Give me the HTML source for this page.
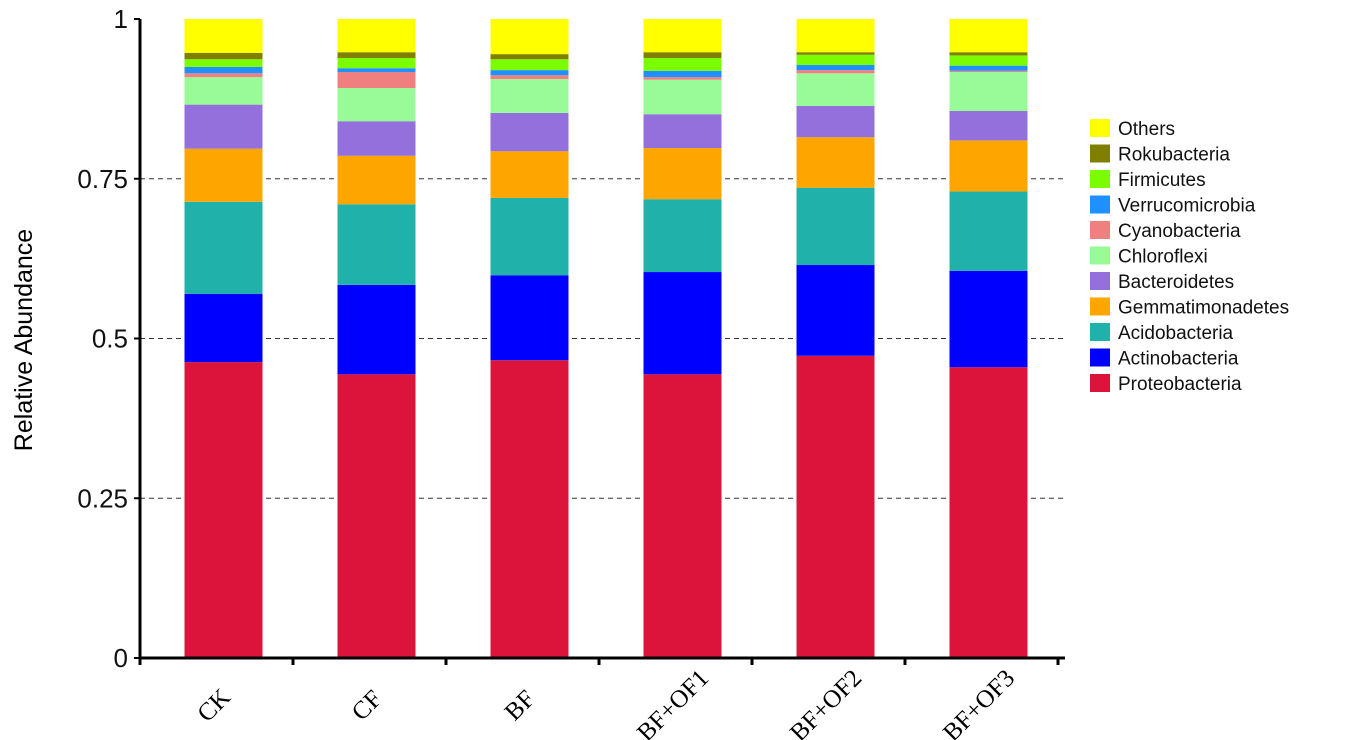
<!DOCTYPE html>
<html><head><meta charset="utf-8"><style>
body{margin:0;background:#fff;}
svg{display:block;font-family:"Liberation Sans",sans-serif;}
</style></head><body>
<svg id="chart" width="1350" height="740" viewBox="0 0 1350 740"></svg>
<script>
const categories = ["CK","CF","BF","BF+OF1","BF+OF2","BF+OF3"];
const seriesNames = ["Proteobacteria","Actinobacteria","Acidobacteria","Gemmatimonadetes","Bacteroidetes","Chloroflexi","Cyanobacteria","Verrucomicrobia","Firmicutes","Rokubacteria","Others"];
const seriesColors = ["#dc143c","#0000ff","#20b2aa","#ffa500","#9370db","#98fb98","#f08080","#1e90ff","#7cfc00","#808000","#ffff00"];
const proteobacteria = [0.463,0.444,0.466,0.444,0.473,0.455];
const actinobacteria = [0.107,0.140,0.133,0.160,0.142,0.151];
const acidobacteria = [0.144,0.126,0.121,0.114,0.121,0.124];
const gemmatimonadetes = [0.083,0.076,0.073,0.080,0.079,0.080];
const bacteroidetes = [0.069,0.054,0.060,0.053,0.049,0.046];
const chloroflexi = [0.043,0.052,0.053,0.054,0.051,0.061];
const cyanobacteria = [0.006,0.025,0.006,0.004,0.005,0.002];
const verrucomicrobia = [0.010,0.006,0.008,0.010,0.008,0.008];
const firmicutes = [0.012,0.016,0.017,0.020,0.016,0.016];
const rokubacteria = [0.010,0.009,0.008,0.009,0.004,0.005];
const others = [0.053,0.052,0.055,0.052,0.052,0.052];
const yTicks = [0,0.25,0.5,0.75,1];
const yTickLabels = ["0","0.25","0.5","0.75","1"];

const series = [proteobacteria,actinobacteria,acidobacteria,gemmatimonadetes,bacteroidetes,chloroflexi,cyanobacteria,verrucomicrobia,firmicutes,rokubacteria,others];
const svg = document.getElementById('chart');
const NS = "http://www.w3.org/2000/svg";
const X0 = 140, X1 = 1065, Y0 = 658, Y1 = 19;
const groupW = 153;
const barW = 78;
const y = v => Y0 - v * (Y0 - Y1);
const xc = i => X0 + groupW * (i + 0.5) + 7;
function mk(tag, attrs){const e=document.createElementNS(NS,tag);for(const k in attrs)e.setAttribute(k,attrs[k]);svg.appendChild(e);return e;}

// grid
yTicks.forEach((t,i)=>{
  if(t>0 && t<1){
    const g = mk('line',{x1:X0,x2:X1,y1:y(t),y2:y(t),stroke:'#333','stroke-width':1,'stroke-dasharray':'5,4'});
    
    
  }
  const tl = mk('text',{x:128,y:y(t)+9,'text-anchor':'end','font-size':26,fill:'#111'});
  tl.textContent = yTickLabels[i];
  
  
  const tk = mk('line',{x1:X0-6,x2:X0,y1:y(t),y2:y(t),stroke:'#000','stroke-width':2});
  
  
});

// bars
categories.forEach((c,i)=>{
  let cum = 0;
  series.forEach((s,k)=>{
    const v = s[i];
    const r = mk('rect',{x:xc(i)-barW/2,y:y(cum+v),width:barW,height:y(cum)-y(cum+v),fill:seriesColors[k]});
    
    
    cum += v;
  });
  const lx = xc(i)-4, ly = 711;
  const lab = mk('text',{x:lx,y:ly,'text-anchor':'middle','font-size':25,'font-family':'"Liberation Serif",serif',transform:`rotate(-45 ${lx} ${ly})`});
  lab.textContent = c;
  
  
});

// axes
const ya = mk('line',{x1:X0,x2:X0,y1:Y1,y2:Y0+1,stroke:'#000','stroke-width':3});


const xa = mk('line',{x1:X0-1,x2:X1,y1:Y0,y2:Y0,stroke:'#000','stroke-width':3});


for(let i=0;i<=categories.length;i++){
  const tx = Math.min(X0+groupW*i, X1-1);
  const t = mk('line',{x1:tx,x2:tx,y1:Y0,y2:Y0+7,stroke:'#000','stroke-width':3});
  
  
}
const yt = mk('text',{x:32,y:340,'text-anchor':'middle','font-size':25,transform:'rotate(-90 32 340)'});
yt.textContent = 'Relative Abundance';



// legend
for(let k=seriesNames.length-1;k>=0;k--){
  const row = seriesNames.length-1-k;
  const ry = 128 + row*25.5;
  const sw = mk('rect',{x:1090,y:ry-9,width:20,height:18,fill:seriesColors[k]});
  
  
  const tx = mk('text',{x:1118,y:ry+7,'font-size':19,fill:'#111'});
  tx.textContent = seriesNames[k];
  
  
}
</script>
</body></html>
